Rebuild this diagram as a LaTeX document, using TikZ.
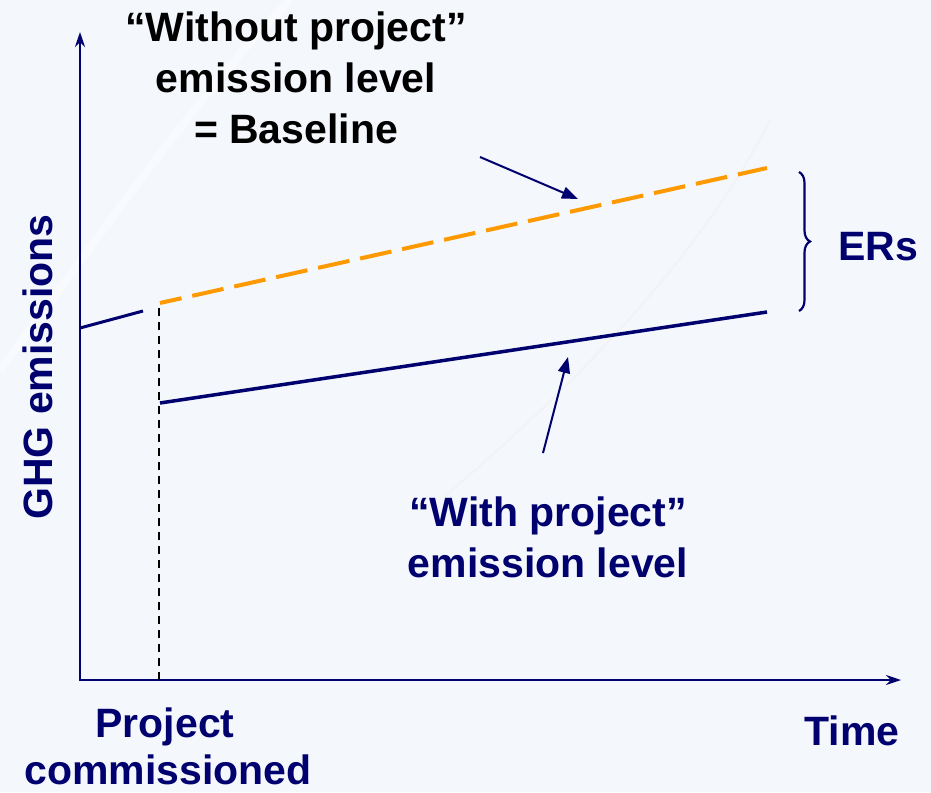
\documentclass[tikz,border=0pt]{standalone}
\usepackage{fontspec}
\setmainfont{Liberation Sans}
\usetikzlibrary{arrows.meta,decorations.pathreplacing}

\definecolor{navy}{RGB}{0,0,110}
\definecolor{baseorange}{RGB}{255,153,0}
\definecolor{slidebg}{RGB}{244,247,252}

\tikzset{
  axis/.style={navy, line width=2pt, -{Stealth[length=15pt,width=10pt]}},
  pointer/.style={navy, line width=2pt, -{Triangle[length=16pt,width=12pt]}},
  lbl/.style={font=\fontsize{41}{51}\selectfont\bfseries, align=center, inner sep=0pt},
}

\begin{document}
\begin{tikzpicture}[x=1pt, y=-1pt]

% background
\fill[slidebg] (0,0) rectangle (931,792);
\useasboundingbox (0,0) rectangle (931,792);
\draw[white, line width=8pt, opacity=0.45] (0,370) .. controls (90,250) and (200,90) .. (290,0);
\draw[black!6, line width=2pt, opacity=0.5] (440,500) .. controls (560,400) and (700,260) .. (770,120);

% axes
\coordinate (O) at (80,680);
\draw[axis] (80,681) -- (80,32);
\draw[axis] (79,680) -- (901,680);

\coordinate (c0) at (159,680);
\coordinate (c1) at (159,303);
\draw[black, line width=1.2pt, dash pattern=on 8pt off 6pt] (c0) -- (c1);

% emission lines
\coordinate (pre0) at (80,328);
\coordinate (pre1) at (143,311);
\coordinate (bl0) at (160,303);
\coordinate (bl1) at (767,168);
\coordinate (wp0) at (160,403);
\coordinate (wp1) at (767,312);

\draw[navy, line width=3pt] (pre0) -- (pre1);
\draw[baseorange, line width=4pt, dash pattern=on 32pt off 11pt, dash phase=10pt] (bl0) -- (bl1);
\draw[navy, line width=3.5pt] (wp0) -- (wp1);

% ERs brace
\draw[navy, line width=2.2pt, decorate, decoration={brace, amplitude=11pt}] (799,172) -- (799,311);
\node[lbl, navy, anchor=base] (ers) at (878,260) {ERs};

% labels
\node[lbl, black, anchor=north] (without) at (296,12) {``Without project''\\emission level\\= Baseline};
\node[lbl, navy, anchor=north] (with) at (548,497) {``With project''\\emission level};
\node[lbl, navy, anchor=base, rotate=90] (ghg) at (52,367) {GHG emissions};
\node[lbl, navy, anchor=base] (proj) at (165,737) {Project};
\node[lbl, navy, anchor=base] (comm) at (168,784) {commissioned};
\node[lbl, navy, anchor=base] (time) at (852,745) {Time};

% pointers
\coordinate (p0) at (480,157);
\coordinate (p1) at (578,199);
\coordinate (q0) at (543,453);
\coordinate (q1) at (568,357);
\draw[pointer] (p0) -- (p1);
\draw[pointer] (q0) -- (q1);

\end{tikzpicture}
\end{document}
